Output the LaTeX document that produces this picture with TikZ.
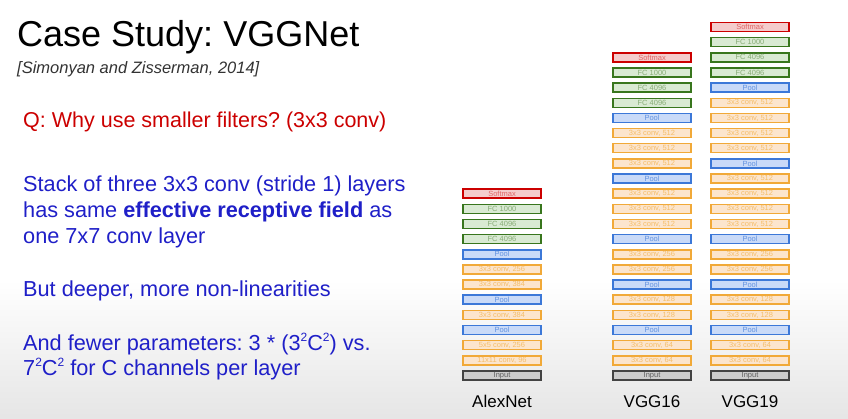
\documentclass[tikz,border=0pt]{standalone}
\usepackage{fontspec}
\setmainfont{Liberation Sans}
\frenchspacing
\definecolor{smline}{HTML}{CC0000}
\definecolor{smfill}{HTML}{F4CCCC}
\definecolor{fcline}{HTML}{38761D}
\definecolor{fcfill}{HTML}{D9EAD3}
\definecolor{plline}{HTML}{3C78D8}
\definecolor{plfill}{HTML}{C9DAF8}
\definecolor{cvline}{HTML}{F1A938}
\definecolor{cvfill}{HTML}{FCE5CD}
\definecolor{inline}{HTML}{434343}
\definecolor{infill}{HTML}{CCCCCC}
\definecolor{qred}{HTML}{CC0000}
\definecolor{tblue}{HTML}{1F1FC8}
\newcommand\sqr[1]{\raisebox{.75ex}{\fontsize{12}{12}\selectfont#1}}
\tikzset{
layer/.style={rectangle,minimum width=78pt,minimum height=9pt,inner sep=0pt,line width=1.5pt,
  font=\fontsize{7.5}{8}\selectfont},
softmaxbox/.style={layer,draw=smline,fill=smfill,text=smline!60},
fcbox/.style={layer,draw=fcline,fill=fcfill,text=fcline!60},
poolbox/.style={layer,draw=plline,fill=plfill,text=plline!80},
convbox/.style={layer,draw=cvline,fill=cvfill,text=cvline!75},
inputbox/.style={layer,draw=inline,fill=infill,text=inline!85},
netname/.style={anchor=base,font=\fontsize{17}{20}\selectfont},
bluetxt/.style={anchor=base west,inner sep=0pt,text=tblue,font=\fontsize{21.7}{24}\selectfont}
}
\begin{document}
\begin{tikzpicture}[x=1pt,y=-1pt]
\useasboundingbox(0,0)rectangle(848,419);
\fill[white](0,0)rectangle(848,419);
\shade[top color=white,bottom color=black!10](0,280)rectangle(848,419);
% title and text
\node[anchor=base west,inner sep=0pt,font=\fontsize{36}{40}\selectfont](title)at(17,47){Case Study: VGGNet};
\node[anchor=base west,inner sep=0pt,text=black!80,font=\fontsize{16.5}{18}\itshape](cite)at(17,74){[Simonyan and Zisserman, 2014]};
\node[anchor=base west,inner sep=0pt,text=qred,font=\fontsize{21.5}{24}\selectfont](quest)at(23,128){Q: Why use smaller filters? (3x3 conv)};
\node[bluetxt](l1)at(23,192){Stack of three 3x3 conv (stride 1) layers};
\node[bluetxt](l2)at(23,218){has same \textbf{effective receptive field} as};
\node[bluetxt](l3)at(23,243.5){one 7x7 conv layer};
\node[bluetxt](l4)at(23,297){But deeper, more non-linearities};
\node[bluetxt](l5)at(23,350){And fewer parameters: 3 * (3\sqr{2}C\sqr{2}) vs.};
\node[bluetxt](l6)at(23,375.5){7\sqr{2}C\sqr{2} for C channels per layer};
% AlexNet
\foreach\t/\l[count=\i from 0]in{inputbox/Input,convbox/{11x11 conv, 96},convbox/{5x5 conv, 256},poolbox/Pool,
convbox/{3x3 conv, 384},poolbox/Pool,convbox/{3x3 conv, 384},convbox/{3x3 conv, 256},poolbox/Pool,
fcbox/FC 4096,fcbox/FC 4096,fcbox/FC 1000,softmaxbox/Softmax}{
\node[\t](alex\i)at(502,375.5-15.15*\i){\l};}
% VGG16
\foreach\t/\l[count=\i from 0]in{inputbox/Input,convbox/{3x3 conv, 64},convbox/{3x3 conv, 64},poolbox/Pool,
convbox/{3x3 conv, 128},convbox/{3x3 conv, 128},poolbox/Pool,convbox/{3x3 conv, 256},convbox/{3x3 conv, 256},poolbox/Pool,
convbox/{3x3 conv, 512},convbox/{3x3 conv, 512},convbox/{3x3 conv, 512},poolbox/Pool,
convbox/{3x3 conv, 512},convbox/{3x3 conv, 512},convbox/{3x3 conv, 512},poolbox/Pool,
fcbox/FC 4096,fcbox/FC 4096,fcbox/FC 1000,softmaxbox/Softmax}{
\node[\t](vgga\i)at(652,375.5-15.15*\i){\l};}
% VGG19
\foreach\t/\l[count=\i from 0]in{inputbox/Input,convbox/{3x3 conv, 64},convbox/{3x3 conv, 64},poolbox/Pool,
convbox/{3x3 conv, 128},convbox/{3x3 conv, 128},poolbox/Pool,convbox/{3x3 conv, 256},convbox/{3x3 conv, 256},poolbox/Pool,
convbox/{3x3 conv, 512},convbox/{3x3 conv, 512},convbox/{3x3 conv, 512},convbox/{3x3 conv, 512},poolbox/Pool,
convbox/{3x3 conv, 512},convbox/{3x3 conv, 512},convbox/{3x3 conv, 512},convbox/{3x3 conv, 512},poolbox/Pool,
fcbox/FC 4096,fcbox/FC 4096,fcbox/FC 1000,softmaxbox/Softmax}{
\node[\t](vggb\i)at(750,375.5-15.15*\i){\l};}
\node[netname](alexname)at(502,407){AlexNet};
\node[netname](vgganame)at(652,407){VGG16};
\node[netname](vggbname)at(750,407){VGG19};
\end{tikzpicture}
\end{document}
